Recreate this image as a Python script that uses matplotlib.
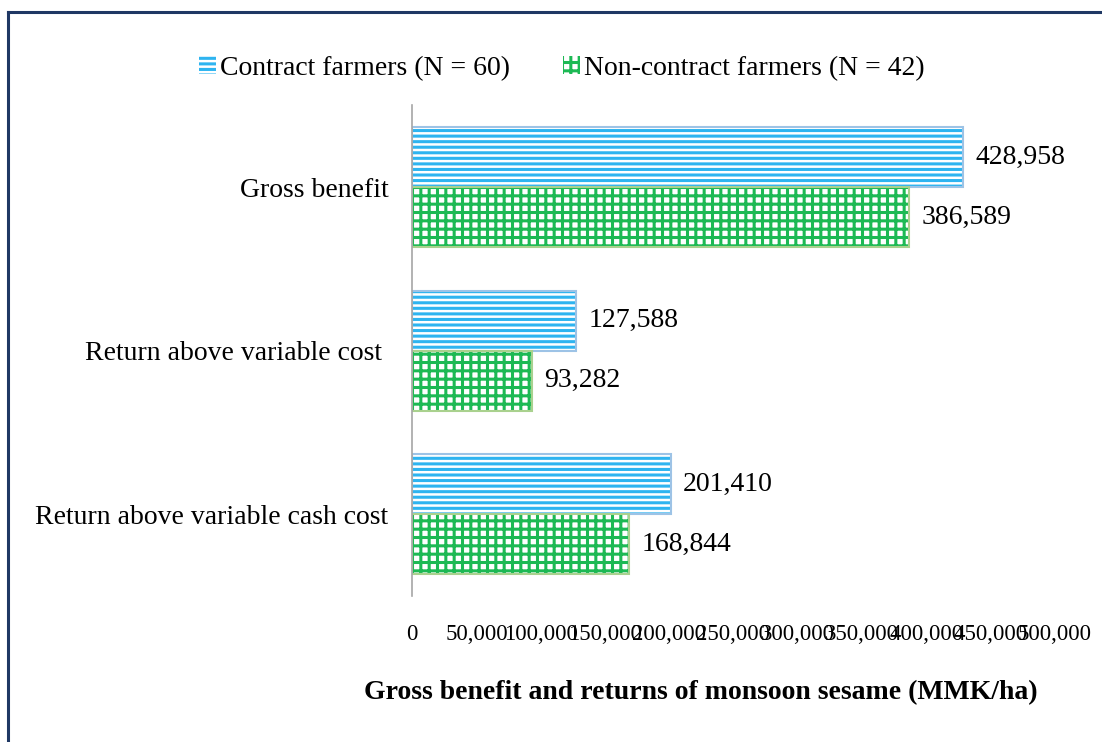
import matplotlib.pyplot as plt
from matplotlib.lines import Line2D
from matplotlib.patches import Patch
import numpy as np

plt.rcParams['font.family'] = ['Liberation Serif', 'DejaVu Serif']
plt.rcParams['hatch.linewidth'] = 2.2

# data (MMK/ha)
categories = ["Gross benefit", "Return above variable cost ", "Return above variable cash cost"]
contract = [428958, 127588, 201410]
non_contract = [386589, 93282, 168844]
series_names = ["Contract farmers (N = 60)", "Non-contract farmers (N = 42)"]
xticks = [0, 50000, 100000, 150000, 200000, 250000, 300000, 350000, 400000, 450000, 500000]

blue_hatch = "#2EB4F0"
blue_edge = "#9DC3E6"
green_hatch = "#1DB954"
green_edge = "#A9D18E"

fig = plt.figure(figsize=(11.02, 7.42), dpi=100)
ax = fig.add_axes([0.374, 0.197, 0.583, 0.661])

y = np.arange(len(categories))
h = 0.367

# hatched fill, then a separate outline so the edge colour can differ
ax.barh(y - h / 2, contract, height=h, color="white", hatch="---",
        edgecolor=blue_hatch, linewidth=0)
ax.barh(y - h / 2, contract, height=h, fill=False, edgecolor=blue_edge, linewidth=1.5)
ax.barh(y + h / 2, non_contract, height=h, color="white", hatch="++",
        edgecolor=green_hatch, linewidth=0)
ax.barh(y + h / 2, non_contract, height=h, fill=False, edgecolor=green_edge, linewidth=1.5)

for i in range(len(categories)):
    ax.text(contract[i] + 9500, y[i] - h / 2, f"{contract[i]:,}", va="center",
            ha="left", fontsize=20)
    ax.text(non_contract[i] + 9500, y[i] + h / 2, f"{non_contract[i]:,}", va="center",
            ha="left", fontsize=20)

ax.set_xlim(0, 500000)
ax.set_ylim(len(categories) - 0.5, -0.5)
ax.set_yticks(y)
ax.set_yticklabels(categories, fontsize=20)
ax.set_xticks(xticks)
ax.set_xticklabels([f"{v:,}" for v in xticks], fontsize=16.5)
ax.tick_params(axis="both", length=0)
ax.tick_params(axis="x", pad=20)
ax.tick_params(axis="y", pad=17)

for s in ["top", "right", "bottom"]:
    ax.spines[s].set_visible(False)
ax.spines["left"].set_color("#A6A6A6")
ax.spines["left"].set_linewidth(1.2)

# axis title sits a little left of the plot centre
fig.text(0.636, 0.067, "Gross benefit and returns of monsoon sesame (MMK/ha)",
         ha="center", va="center", fontsize=20, fontweight="bold")

handles = [
    Patch(facecolor="white", hatch="---", edgecolor=blue_hatch, linewidth=0),
    Patch(facecolor="white", hatch="++", edgecolor=green_hatch, linewidth=0),
]
fig.legend(handles, series_names, loc="center", bbox_to_anchor=(0.510, 0.908),
           ncol=2, frameon=False, fontsize=20, handlelength=0.6, handleheight=0.6,
           handletextpad=0.15, columnspacing=1.9)

# frame lines along the top and left of the figure
fig.add_artist(Line2D([0.0075, 1.0], [0.984, 0.984], color="#1F3864", linewidth=2.2,
                      transform=fig.transFigure))
fig.add_artist(Line2D([0.0075, 0.0075], [0.0, 0.984], color="#1F3864", linewidth=2.2,
                      transform=fig.transFigure))

fig.savefig("out.png", dpi=100)
